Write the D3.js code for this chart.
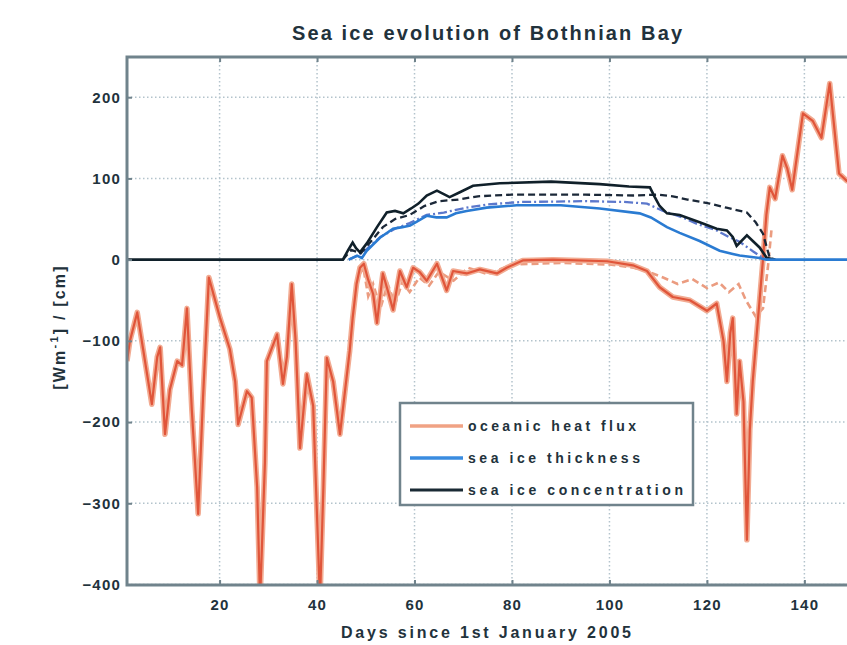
<!DOCTYPE html>
<html>
<head>
<meta charset="utf-8">
<script src="https://cdn.jsdelivr.net/npm/d3@7"></script>
<style>
  body { margin: 0; background: #ffffff; }
  svg { display: block; }
  text { font-family: "Liberation Sans", Arial, sans-serif; font-weight: bold; fill: #22323c; }
</style>
</head>
<body>
<svg id="chart" width="847" height="645"></svg>
<script>
// Tick values
const xTicks = [20, 40, 60, 80, 100, 120, 140];
const yTicks = [-400, -300, -200, -100, 0, 100, 200];

// Oceanic heat flux [W m-1], main station (solid) — [day, value]
const heatFluxMain = [
  [1,-125],[1.6,-100],[3.1,-65],[4.3,-110],[6.1,-178],[7.2,-120],[7.8,-108],[8.8,-215],[9.8,-160],
  [11.3,-125],[12.3,-130],[13.3,-60],[14.3,-185],[15.6,-313],[16.6,-170],[17.8,-22],[20.1,-72],
  [22.1,-110],[23.2,-150],[23.8,-203],[25.6,-162],[26.6,-170],[27.7,-280],[28.3,-420],[29.3,-250],
  [29.7,-125],[31.8,-92],[33,-153],[33.8,-120],[34.8,-30],[35.6,-100],[36.5,-232],[37.9,-141],
  [39.2,-180],[40.6,-420],[41.3,-280],[42,-121],[43.3,-150],[44.7,-215],[46.7,-112],[47.3,-72],
  [48.1,-30],[48.8,-10],[49.6,-5],[50.5,-25],[51.5,-42],[52.3,-78],[53.5,-17],[54.6,-40],[55.6,-62],
  [57,-14],[58.4,-34],[59.7,-10],[61,-15],[62.5,-26],[64.6,-5],[66.6,-38],[67.9,-14],[70.7,-17],
  [73.4,-12],[76.9,-17],[78.9,-10],[82.2,-1],[88.4,0],[99.5,-2],[104.8,-7],[107.7,-14],[110.3,-34],
  [113,-46],[116.5,-50],[120,-63],[122,-54],[123.4,-100],[124.1,-150],[124.8,-90],[125.3,-72],
  [126.1,-190],[126.7,-125],[127.5,-175],[128.2,-345],[128.8,-210],[129.4,-150],[130.1,-100],
  [130.8,-50],[131.5,0],[132.2,55],[132.9,89],[134,75],[135.5,128],[136.5,112],[137.5,86],
  [139.7,180],[141.7,171],[143.5,150],[145.2,217],[147.1,106],[148.7,97],[151,95]
];
// Oceanic heat flux, second station (dashed)
const heatFluxAlt = [
  [47.3,-72],[48.5,-20],[49.5,-10],[50.5,-45],[51.5,-30],[53,-60],[54.5,-30],[56,-55],[57.5,-28],
  [59,-40],[61,-22],[63,-32],[65,-15],[68,-26],[71,-10],[75,-18],[80,-6],[90,-4],[100,-6],[105,-10],
  [108,-15],[111,-22],[114,-30],[117,-24],[120,-35],[122.5,-28],[124.5,-40],[126.5,-30],[128,-50],
  [130,-70],[131.5,-60],[132.5,-10],[133.3,40]
];

// Sea ice thickness [cm]
const thicknessMain = [
  [1,0],[46.5,0],[48.2,5],[49.2,2],[50.2,11],[52.9,27],[55.6,38],[57.5,40],[59.1,42],[62.5,54],
  [64.5,52],[66.6,52],[68.5,57],[70.7,60],[74.8,64],[81,67],[90,67],[98,63],[106.2,57],[108.5,52],
  [111.8,40],[114.4,33],[118.5,23],[122.6,11],[125.3,7],[126.7,5],[130.8,2],[132.2,0],[151,0]
];
const thicknessAlt = [
  [46.5,0],[48,4],[50,12],[53,28],[56,38],[59,45],[62.5,55],[66,58],[70.7,64],[75,68],[82,71],
  [95,72],[103,71],[107.7,69],[111,60],[115,52],[118,44],[122,36],[124.5,28],[126.7,22],
  [129.5,10],[131.5,2],[132.5,0]
];

// Sea ice concentration [%]
const concentrationMain = [
  [1,0],[45.3,0],[46.4,12],[47.3,21],[48,14],[48.8,9],[50.2,20],[52.3,40],[54.3,58],[56,60],
  [57.7,57],[59.3,63],[60.8,69],[62.5,79],[64.6,85],[67.2,77],[69.3,83],[72,91],[77.5,94],[88,96],
  [98,93],[104,90],[108.3,89],[109.3,77],[110.3,66],[111.8,57],[114.4,55],[118.5,46],[122,38],
  [124.1,36],[125.3,28],[126.1,17],[128.2,30],[130.8,15],[132.3,2],[134,0]
];
const concentrationAlt = [
  [45.3,0],[47,12],[49,8],[51,22],[53.5,40],[56,50],[59,55],[62,66],[65,72],[69,74],[73,78],
  [80,80],[95,80],[105,79],[110,80],[113,78],[116,74],[120.6,69],[124,64],[128.2,58],[130,46],
  [131.5,32],[132.9,2],[134,0]
];

const legendLabels = ["oceanic heat flux", "sea ice thickness", "sea ice concentration"];

const svg = d3.select("#chart");

const plot = { left: 127, top: 57, bottom: 585, right: 858 };
const x = d3.scaleLinear().domain([1, 151]).range([plot.left, plot.right]);
const y = d3.scaleLinear().domain([-400, 250]).range([584.5, 56.6]);

const frameColor = "#70838c";
const gridColor = "#b3c3cc";

// Clip region for the data
svg.append("defs").append("clipPath").attr("id", "plotClip")
  .append("rect")
  .attr("x", plot.left).attr("y", plot.top)
  .attr("width", plot.right - plot.left).attr("height", plot.bottom - plot.top);

// Dotted grid
const grid = svg.append("g");
grid.selectAll(".gx").data(xTicks).join("line")
  .attr("x1", d => x(d)).attr("x2", d => x(d))
  .attr("y1", plot.top).attr("y2", plot.bottom)
  .attr("stroke", gridColor).attr("stroke-width", 1.5).attr("stroke-dasharray", "1.5,2.5");
grid.selectAll(".gy").data(yTicks).join("line")
  .attr("x1", plot.left).attr("x2", plot.right)
  .attr("y1", d => y(d)).attr("y2", d => y(d))
  .attr("stroke", gridColor).attr("stroke-width", 1.5).attr("stroke-dasharray", "1.5,2.5");

// Series
const line = d3.line().x(d => x(d[0])).y(d => y(d[1]));
const data = svg.append("g").attr("clip-path", "url(#plotClip)");

// heat flux: soft halo under a red-orange core
data.append("path").datum(heatFluxAlt).attr("d", line).attr("fill", "none")
  .attr("stroke", "#eb9c80").attr("stroke-width", 2.6).attr("stroke-dasharray", "7,4");
data.append("path").datum(heatFluxMain).attr("d", line).attr("fill", "none")
  .attr("stroke", "#f2ab92").attr("stroke-width", 5.5).attr("stroke-linejoin", "round");
data.append("path").datum(heatFluxMain).attr("d", line).attr("fill", "none")
  .attr("stroke", "#e0553a").attr("stroke-width", 2.2).attr("stroke-linejoin", "round");

data.append("path").datum(thicknessAlt).attr("d", line).attr("fill", "none")
  .attr("stroke", "#5c78cc").attr("stroke-width", 2.3).attr("stroke-dasharray", "9,3,2,3");
data.append("path").datum(concentrationAlt).attr("d", line).attr("fill", "none")
  .attr("stroke", "#1b2838").attr("stroke-width", 2.3).attr("stroke-dasharray", "7,4");
data.append("path").datum(concentrationMain).attr("d", line).attr("fill", "none")
  .attr("stroke", "#10202a").attr("stroke-width", 2.6);
data.append("path").datum(thicknessMain.filter(d => d[0] >= 46.5)).attr("d", line).attr("fill", "none")
  .attr("stroke", "#2a7bd2").attr("stroke-width", 2.6);

// Axes with inward ticks
const yAxis = svg.append("g").attr("transform", `translate(${plot.left},0)`)
  .call(d3.axisLeft(y).tickValues(yTicks).tickSize(-5).tickSizeOuter(0).tickPadding(6));
const xAxis = svg.append("g").attr("transform", `translate(0,${plot.bottom})`)
  .call(d3.axisBottom(x).tickValues(xTicks).tickSize(-5).tickSizeOuter(0).tickPadding(14));
const xTop = svg.append("g").attr("transform", `translate(0,${plot.top})`)
  .call(d3.axisTop(x).tickValues(xTicks).tickSize(-5).tickSizeOuter(0).tickFormat(""));
[yAxis, xAxis, xTop].forEach(g => {
  g.select(".domain").remove();
  g.selectAll(".tick line").attr("stroke", frameColor).attr("stroke-width", 2);
  g.selectAll(".tick text").attr("font-size", 15).attr("letter-spacing", 1.2)
    .attr("font-family", "Liberation Sans, Arial, sans-serif").attr("font-weight", "bold")
    .attr("fill", "#22323c");
});

// Frame (top, left, bottom)
svg.append("path")
  .attr("d", `M${plot.right},${plot.top}H${plot.left}V${plot.bottom}H${plot.right}`)
  .attr("fill", "none").attr("stroke", frameColor).attr("stroke-width", 3);

// Title and axis labels
svg.append("text").attr("x", 487).attr("y", 40).attr("text-anchor", "middle")
  .attr("font-size", 20).attr("textLength", 390).attr("lengthAdjust", "spacing")
  .text("Sea ice evolution of Bothnian Bay");
svg.append("text").attr("x", 486).attr("y", 638).attr("text-anchor", "middle")
  .attr("font-size", 16).attr("textLength", 290).attr("lengthAdjust", "spacing")
  .text("Days since 1st January 2005");

const yLab = svg.append("text").attr("transform", "translate(65,327) rotate(-90)")
  .attr("text-anchor", "middle").attr("font-size", 16).attr("letter-spacing", 2.2);
yLab.append("tspan").text("[Wm");
yLab.append("tspan").attr("font-size", 11).attr("dy", -7).text("-1");
yLab.append("tspan").attr("dy", 7).text("] / [cm]");

// Legend
const legend = svg.append("g");
legend.append("rect").attr("x", 400).attr("y", 403).attr("width", 293).attr("height", 102)
  .attr("fill", "#ffffff").attr("stroke", frameColor).attr("stroke-width", 2.5);
const legendStyles = [
  { color: "#f0a284", width: 3.5 },
  { color: "#3a8ce0", width: 3.5 },
  { color: "#1a2a34", width: 2.8 }
];
const legendRowY = [426, 458, 490];
const legendTextLen = [168, 172, 215];
legendLabels.forEach((label, i) => {
  legend.append("line").attr("x1", 410).attr("x2", 463)
    .attr("y1", legendRowY[i]).attr("y2", legendRowY[i])
    .attr("stroke", legendStyles[i].color).attr("stroke-width", legendStyles[i].width);
  legend.append("text").attr("x", 468).attr("y", legendRowY[i] + 5)
    .attr("font-size", 14).attr("textLength", legendTextLen[i]).attr("lengthAdjust", "spacing")
    .text(label);
});
</script>
</body>
</html>
